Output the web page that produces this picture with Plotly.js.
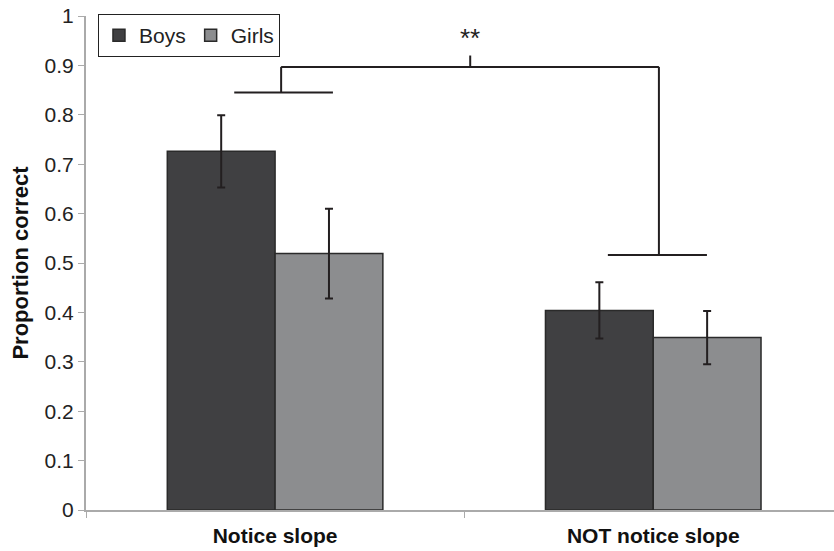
<!DOCTYPE html>
<html>
<head>
<meta charset="utf-8">
<script src="https://cdn.plot.ly/plotly-3.0.1.min.js"></script>
<style>html,body{margin:0;padding:0;background:#fff;}#chart{width:834px;height:551px;}</style>
</head>
<body>
<div id="chart"></div>
<script>
// Data
const categories = ["Notice slope", "NOT notice slope"];
const boysValues = [0.726, 0.404];
const boysErrors = [0.073, 0.057];
const girlsValues = [0.519, 0.349];
const girlsErrors = [0.091, 0.054];
const yTickValues = [0, 0.1, 0.2, 0.3, 0.4, 0.5, 0.6, 0.7, 0.8, 0.9, 1];
const yTickLabels = ["0", "0.1", "0.2", "0.3", "0.4", "0.5", "0.6", "0.7", "0.8", "0.9", "1"];
// Significance bracket (x in category index units, y in proportion)
const bracketLeftBar = [-0.108, 0.153];
const bracketLeftY = 0.845;
const bracketRightBar = [0.880, 1.142];
const bracketRightY = 0.516;
const bracketX = [0.016, 1.015];
const bracketTopY = 0.897;
const bracketMidX = 0.516;
const bracketMidTopY = 0.92;
const sigLabel = "**";
const sigLabelY = 0.955;

const font = "Liberation Sans, Arial, Helvetica, sans-serif";
const ink = "#231f20";
const lineStyle = {color: ink, width: 2};

const traces = [
  {
    type: "bar", name: "Boys", x: categories, y: boysValues,
    marker: {color: "#404042", line: {color: "#2a2a2a", width: 1.5}},
    error_y: {type: "data", array: boysErrors, visible: true, color: ink, thickness: 2, width: 4}
  },
  {
    type: "bar", name: "Girls", x: categories, y: girlsValues,
    marker: {color: "#8c8d8f", line: {color: "#2a2a2a", width: 1.5}},
    error_y: {type: "data", array: girlsErrors, visible: true, color: ink, thickness: 2, width: 4}
  }
];

const shapes = [
  {type: "line", xref: "x", yref: "y", x0: bracketLeftBar[0], x1: bracketLeftBar[1], y0: bracketLeftY, y1: bracketLeftY, line: lineStyle},
  {type: "line", xref: "x", yref: "y", x0: bracketX[0], x1: bracketX[0], y0: bracketLeftY, y1: bracketTopY, line: lineStyle},
  {type: "line", xref: "x", yref: "y", x0: bracketX[0], x1: bracketX[1], y0: bracketTopY, y1: bracketTopY, line: lineStyle},
  {type: "line", xref: "x", yref: "y", x0: bracketMidX, x1: bracketMidX, y0: bracketTopY, y1: bracketMidTopY, line: lineStyle},
  {type: "line", xref: "x", yref: "y", x0: bracketX[1], x1: bracketX[1], y0: bracketTopY, y1: bracketRightY, line: lineStyle},
  {type: "line", xref: "x", yref: "y", x0: bracketRightBar[0], x1: bracketRightBar[1], y0: bracketRightY, y1: bracketRightY, line: lineStyle}
];

const layout = {
  width: 834, height: 551,
  margin: {l: 86, r: 0, t: 16, b: 41},
  paper_bgcolor: "#fff", plot_bgcolor: "#fff",
  font: {family: font, size: 21, color: "#222"},
  barmode: "group", bargap: 0.43, bargroupgap: 0,
  showlegend: true,
  legend: {
    orientation: "h", x: 0.016, y: 1.004, xanchor: "left", yanchor: "top",
    bordercolor: "#222", borderwidth: 1, bgcolor: "#fff",
    font: {family: font, size: 21, color: "#222"},
    itemwidth: 30, traceorder: "normal"
  },
  xaxis: {
    type: "category", range: [-0.5, 1.478],
    showline: true, linecolor: "#aaaaaa", linewidth: 2,
    ticks: "outside", tickson: "boundaries", ticklen: 6, tickcolor: "#aaaaaa", tickwidth: 1,
    showgrid: false, zeroline: false,
    tickfont: {family: font, size: 21, color: "#111", weight: "bold"},
    ticklabelstandoff: 6
  },
  yaxis: {
    range: [0, 1], tickvals: yTickValues, ticktext: yTickLabels,
    showline: true, linecolor: "#aaaaaa", linewidth: 2,
    ticks: "outside", ticklen: 6, tickcolor: "#aaaaaa", tickwidth: 1,
    showgrid: false, zeroline: false,
    tickfont: {family: font, size: 21, color: "#222"},
    title: {text: "Proportion correct", font: {family: font, size: 22, color: "#111", weight: "bold"}, standoff: 10}
  },
  shapes: shapes,
  annotations: [
    {xref: "x", yref: "y", x: bracketMidX, y: sigLabelY, text: sigLabel, showarrow: false,
     font: {family: font, size: 26, color: "#222"}}
  ]
};

Plotly.newPlot("chart", traces, layout, {displayModeBar: false, staticPlot: true});
</script>
</body>
</html>
